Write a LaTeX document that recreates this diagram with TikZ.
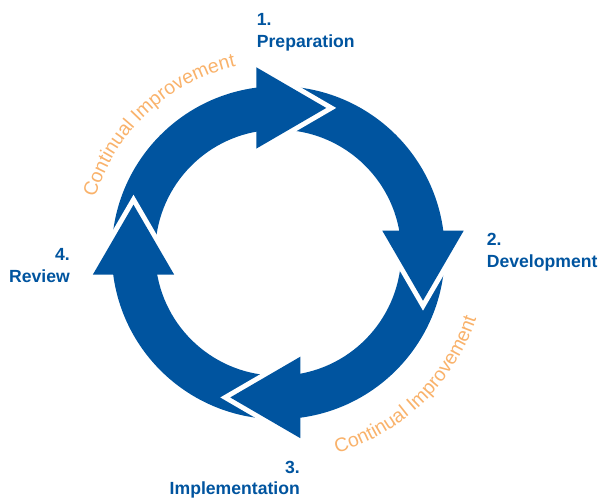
\documentclass[tikz,border=0pt]{standalone}
\usepackage{fontspec}
\setmainfont{Liberation Sans}
\usetikzlibrary{decorations.text}
\definecolor{cblue}{RGB}{0,84,159}
\definecolor{corange}{RGB}{249,178,107}
\newcommand\orfont{\fontsize{19.5}{21}\selectfont\color{corange}}
\begin{document}
\begin{tikzpicture}[x=1pt,y=1pt,
  ringbody/.style={fill=cblue},
  headfill/.style={fill=cblue},
  headgap/.style={draw=white, line width=10pt, line join=miter, line cap=butt},
  lbl/.style={text=cblue, font=\fontsize{17.6}{21.7}\selectfont\bfseries, inner sep=0pt},
  ortext/.style={decorate, decoration={text along path, text={|\orfont|Continual Improvement}, text align=center}}]
\useasboundingbox (0,0) rectangle (603,498);
\begin{scope}[shift={(278.25,245.3)}]
\foreach \k in {0,1,2,3}{
  \begin{scope}[rotate=-90*\k]
    \path[ringbody] (180:166.5) arc[start angle=180, end angle=96, radius=166.5]
      -- (96:123) arc[start angle=96, end angle=180, radius=123] -- cycle;
  \end{scope}
}
\foreach \k in {0,1,2,3}{
  \begin{scope}[rotate=-90*\k]
    \path[headgap] (-22,185.45) -- (48,144.75) -- (-22,104.05);
    \path[headfill] (-22,185.45) -- (48,144.75) -- (-22,104.05) -- cycle;
  \end{scope}
}
\path[ortext] (173:191) arc[start angle=173, end angle=93, radius=191];
\path[ortext] (-86:208.7) arc[start angle=-86, end angle=-6, radius=208.7];
\end{scope}
\node[lbl, anchor=north west, align=left] (prep) at (256.7,484.7) {1.\\Preparation};
\node[lbl, anchor=north west, align=left] (dev) at (486.7,264.7) {2.\\Development};
\node[lbl, anchor=north east, align=right] (impl) at (300,37.3) {3.\\Implementation};
\node[lbl, anchor=north east, align=right] (rev) at (70,249.7) {4.\\Review};
\end{tikzpicture}
\end{document}
